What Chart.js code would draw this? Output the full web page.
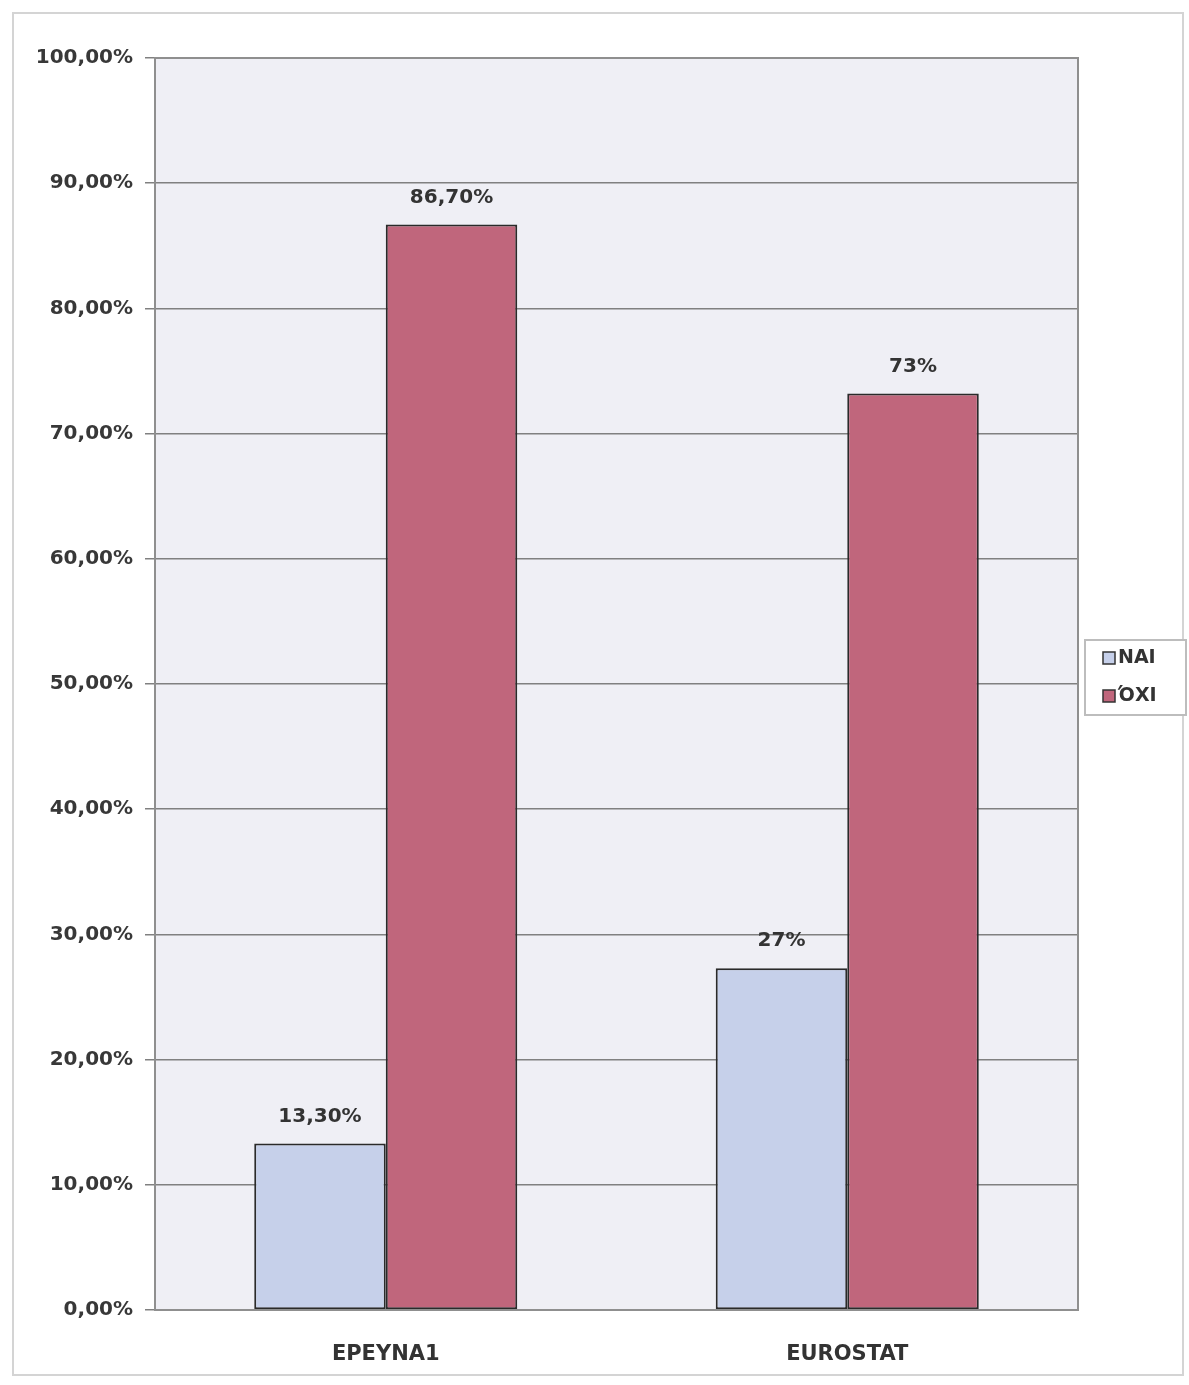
<!DOCTYPE html>
<html>
<head>
<meta charset="utf-8">
<script src="https://cdn.jsdelivr.net/npm/chart.js@4"></script>
<style>
  html, body { margin: 0; padding: 0; background: #ffffff; }
  #wrap { position: relative; width: 1189px; height: 1385px; }
  #frame { position: absolute; left: 12px; top: 12px; width: 1172px; height: 1364px; border: 2px solid #d4d4d4; box-sizing: border-box; }
  canvas { position: absolute; left: 0; top: 0; }
</style>
</head>
<body>
<div id="wrap">
  <div id="frame"></div>
  <canvas id="c" width="1189" height="1385"></canvas>
</div>
<script>
const categories = ["ΕΡΕΥΝΑ1", "EUROSTAT"];
const seriesNames = ["ΝΑΙ", "ΌΧΙ"];
const naiValues = [13.3, 27.3];
const oxiValues = [86.7, 73.2];
const naiLabels = ["13,30%", "27%"];
const oxiLabels = ["86,70%", "73%"];

const FONT = "'DejaVu Sans', 'Liberation Sans', Arial, sans-serif";

const plotBg = {
  id: 'plotBg',
  beforeDraw(chart) {
    const {ctx, chartArea: a} = chart;
    ctx.save();
    ctx.fillStyle = '#efeff5';
    ctx.fillRect(a.left, a.top, a.right - a.left, a.bottom - a.top);
    ctx.restore();
  },
  afterDatasetsDraw(chart) {
    const {ctx, chartArea: a} = chart;
    ctx.save();
    ctx.strokeStyle = '#8f8f8f';
    ctx.lineWidth = 2;
    ctx.strokeRect(a.left, a.top, a.right - a.left, a.bottom - a.top);
    ctx.restore();
  }
};

const valueLabels = {
  id: 'valueLabels',
  afterDatasetsDraw(chart) {
    const {ctx} = chart;
    const all = [naiLabels, oxiLabels];
    ctx.save();
    ctx.font = "bold 20px " + FONT;
    ctx.fillStyle = '#333333';
    ctx.textAlign = 'center';
    ctx.textBaseline = 'middle';
    chart.data.datasets.forEach((ds, i) => {
      chart.getDatasetMeta(i).data.forEach((el, j) => {
        ctx.fillText(all[i][j], el.x, el.y - 27);
      });
    });
    ctx.restore();
  }
};

const boxLegend = {
  id: 'boxLegend',
  afterDraw(chart) {
    const {ctx} = chart;
    const x = 1085, y = 640, w = 101, h = 75;
    ctx.save();
    ctx.fillStyle = '#ffffff';
    ctx.fillRect(x, y, w, h);
    ctx.strokeStyle = '#bdbdbd';
    ctx.lineWidth = 2;
    ctx.strokeRect(x, y, w, h);
    ctx.font = "bold 19px " + FONT;
    ctx.textBaseline = 'middle';
    ctx.textAlign = 'left';
    chart.data.datasets.forEach((ds, i) => {
      const cy = y + 18 + i * 38;
      ctx.fillStyle = ds.backgroundColor;
      ctx.fillRect(x + 18, cy - 6, 12, 12);
      ctx.strokeStyle = '#333333';
      ctx.lineWidth = 1.5;
      ctx.strokeRect(x + 18, cy - 6, 12, 12);
      ctx.fillStyle = '#333333';
      ctx.fillText(ds.label, x + 33, cy);
    });
    ctx.restore();
  }
};

new Chart(document.getElementById('c'), {
  type: 'bar',
  data: {
    labels: categories,
    datasets: [
      { label: seriesNames[0], data: naiValues, backgroundColor: '#c6d0ea', borderColor: '#2a2a2a', borderWidth: 2, borderSkipped: false },
      { label: seriesNames[1], data: oxiValues, backgroundColor: '#c0667c', borderColor: '#2a2a2a', borderWidth: 2, borderSkipped: false }
    ]
  },
  options: {
    responsive: false,
    animation: false,
    devicePixelRatio: 1,
    layout: { padding: { left: 0, right: 111, top: 58, bottom: 0 } },
    datasets: { bar: { categoryPercentage: 0.57, barPercentage: 1.0 } },
    plugins: {
      legend: { display: false },
      tooltip: { enabled: false }
    },
    scales: {
      x: {
        grid: { display: false },
        border: { display: false },
        ticks: { color: '#333333', font: { family: FONT, size: 21, weight: 'bold' }, padding: 24 },
        afterFit(scale) { scale.height = 75; }
      },
      y: {
        min: 0, max: 100,
        ticks: {
          stepSize: 10,
          color: '#383838',
          padding: 12,
          font: { family: FONT, size: 20, weight: 'bold' },
          callback: v => v.toFixed(2).replace('.', ',') + '%'
        },
        grid: { color: '#808080', lineWidth: 1.5, tickLength: 10, drawTicks: true },
        border: { display: false },
        afterFit(scale) { scale.width = 155; }
      }
    }
  },
  plugins: [plotBg, valueLabels, boxLegend]
});
</script>
</body>
</html>
